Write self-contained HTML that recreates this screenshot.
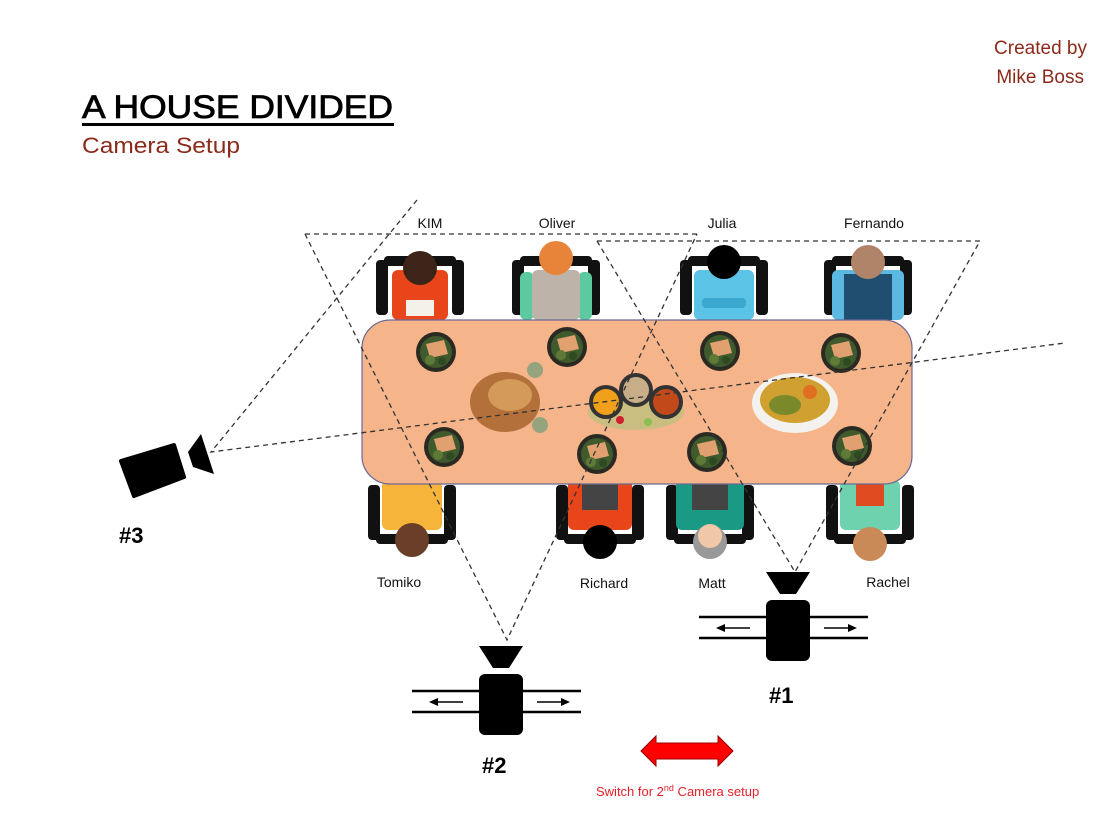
<!DOCTYPE html>
<html><head><meta charset="utf-8"><style>
html,body{margin:0;padding:0;background:#fff;}
svg{display:block;font-family:"Liberation Sans",sans-serif;}
</style></head><body>
<svg width="1120" height="826" viewBox="0 0 1120 826" xmlns="http://www.w3.org/2000/svg">
<defs>
<g id="plate">
<circle r="20" fill="#2b2a22"/>
<circle r="16" fill="#3f5a2c"/>
<path d="M-10,-8 L8,-12 L12,2 L-6,6 Z" fill="#e0a070"/>
<circle cx="-6" cy="8" r="5" fill="#5f7a36"/>
<circle cx="6" cy="9" r="4" fill="#2e4a20"/>
</g>
<g id="cam">
<polygon points="-22,0 22,0 8,22 -8,22" fill="#000"/>
<rect x="-22" y="28" width="44" height="61" rx="6" fill="#000"/>
<line x1="-89" y1="45" x2="-22" y2="45" stroke="#000" stroke-width="2.5"/>
<line x1="-89" y1="66" x2="-22" y2="66" stroke="#000" stroke-width="2.5"/>
<line x1="22" y1="45" x2="80" y2="45" stroke="#000" stroke-width="2.5"/>
<line x1="22" y1="66" x2="80" y2="66" stroke="#000" stroke-width="2.5"/>
<line x1="-66" y1="56" x2="-38" y2="56" stroke="#000" stroke-width="1.5"/>
<polygon points="-72,56 -63,52 -63,60" fill="#000"/>
<line x1="36" y1="56" x2="63" y2="56" stroke="#000" stroke-width="1.5"/>
<polygon points="69,56 60,52 60,60" fill="#000"/>
</g>
</defs>

<text x="1087" y="54" font-size="19" fill="#8b2a1a" text-anchor="end">Created by</text>
<text x="1084" y="83" font-size="19" fill="#8b2a1a" text-anchor="end">Mike Boss</text>
<text x="82" y="118" font-size="32" fill="#000" stroke="#000" stroke-width="0.8" textLength="311" lengthAdjust="spacingAndGlyphs">A HOUSE DIVIDED</text>
<rect x="82" y="123" width="312" height="3" fill="#000"/>
<text x="82" y="153" font-size="22" fill="#8b2a1a" textLength="158" lengthAdjust="spacingAndGlyphs">Camera Setup</text>

<!-- top people -->
<g transform="translate(420,270)">
<rect x="-44" y="-10" width="12" height="55" rx="4" fill="#111"/><rect x="32" y="-10" width="12" height="55" rx="4" fill="#111"/>
<rect x="-36" y="-14" width="72" height="10" rx="4" fill="#111"/>
<rect x="-28" y="0" width="56" height="50" rx="6" fill="#e8461a"/>
<rect x="-14" y="30" width="28" height="16" fill="#f4f0ea"/>
<circle cx="0" cy="-2" r="17" fill="#3d2418"/>
</g>
<g transform="translate(556,270)">
<rect x="-44" y="-10" width="12" height="55" rx="4" fill="#111"/><rect x="32" y="-10" width="12" height="55" rx="4" fill="#111"/>
<rect x="-36" y="-14" width="72" height="10" rx="4" fill="#111"/>
<rect x="-36" y="2" width="14" height="48" rx="6" fill="#5cc9a0"/><rect x="22" y="2" width="14" height="48" rx="6" fill="#5cc9a0"/>
<rect x="-24" y="0" width="48" height="50" rx="6" fill="#bdb3a8"/>
<circle cx="0" cy="-12" r="17" fill="#e8843a"/>
</g>
<g transform="translate(724,270)">
<rect x="-44" y="-10" width="12" height="55" rx="4" fill="#111"/><rect x="32" y="-10" width="12" height="55" rx="4" fill="#111"/>
<rect x="-36" y="-14" width="72" height="10" rx="4" fill="#111"/>
<rect x="-30" y="0" width="60" height="50" rx="6" fill="#5bc3e6"/>
<rect x="-22" y="28" width="44" height="10" rx="4" fill="#3aa8cf"/>
<circle cx="0" cy="-8" r="17" fill="#000"/>
</g>
<g transform="translate(868,270)">
<rect x="-44" y="-10" width="12" height="55" rx="4" fill="#111"/><rect x="32" y="-10" width="12" height="55" rx="4" fill="#111"/>
<rect x="-36" y="-14" width="72" height="10" rx="4" fill="#111"/>
<rect x="-36" y="0" width="72" height="50" rx="6" fill="#5bb8e0"/>
<rect x="-24" y="4" width="48" height="46" fill="#1f4e70"/>
<circle cx="0" cy="-8" r="17" fill="#b08468"/>
</g>

<!-- bottom people -->
<g transform="translate(412,530) rotate(180)">
<rect x="-44" y="-10" width="12" height="55" rx="4" fill="#111"/><rect x="32" y="-10" width="12" height="55" rx="4" fill="#111"/>
<rect x="-36" y="-14" width="72" height="10" rx="4" fill="#111"/>
<rect x="-30" y="0" width="60" height="50" rx="6" fill="#f7b43a"/>
<circle cx="0" cy="-10" r="17" fill="#6a3e28"/>
</g>
<g transform="translate(600,530) rotate(180)">
<rect x="-44" y="-10" width="12" height="55" rx="4" fill="#111"/><rect x="32" y="-10" width="12" height="55" rx="4" fill="#111"/>
<rect x="-36" y="-14" width="72" height="10" rx="4" fill="#111"/>
<rect x="-32" y="0" width="64" height="50" rx="6" fill="#e8461a"/>
<rect x="-18" y="20" width="36" height="30" fill="#444"/>
<circle cx="0" cy="-12" r="17" fill="#000"/>
</g>
<g transform="translate(710,530) rotate(180)">
<rect x="-44" y="-10" width="12" height="55" rx="4" fill="#111"/><rect x="32" y="-10" width="12" height="55" rx="4" fill="#111"/>
<rect x="-36" y="-14" width="72" height="10" rx="4" fill="#111"/>
<rect x="-34" y="0" width="68" height="50" rx="6" fill="#1a9a85"/>
<rect x="-18" y="20" width="36" height="30" fill="#444"/>
<circle cx="0" cy="-12" r="17" fill="#999"/>
<circle cx="0" cy="-6" r="12" fill="#f0c8a8"/>
</g>
<g transform="translate(870,530) rotate(180)">
<rect x="-44" y="-10" width="12" height="55" rx="4" fill="#111"/><rect x="32" y="-10" width="12" height="55" rx="4" fill="#111"/>
<rect x="-36" y="-14" width="72" height="10" rx="4" fill="#111"/>
<rect x="-30" y="0" width="60" height="50" rx="6" fill="#6ed2ae"/>
<rect x="-14" y="24" width="28" height="26" fill="#e04a20"/>
<circle cx="0" cy="-14" r="17" fill="#c98a58"/>
</g>

<!-- table -->
<rect x="362" y="320" width="550" height="164" rx="28" fill="#f5b48a" stroke="#6b6a95" stroke-width="1.2"/>

<use href="#plate" x="436" y="352"/><use href="#plate" x="567" y="347"/><use href="#plate" x="720" y="351"/><use href="#plate" x="841" y="353"/>
<use href="#plate" x="444" y="447"/><use href="#plate" x="597" y="454"/><use href="#plate" x="707" y="452"/><use href="#plate" x="852" y="446"/>

<!-- turkey -->
<circle cx="535" cy="370" r="8" fill="#7da07a" opacity="0.8"/>
<circle cx="540" cy="425" r="8" fill="#7da07a" opacity="0.8"/>
<ellipse cx="505" cy="402" rx="35" ry="30" fill="#b4703a"/>
<ellipse cx="510" cy="395" rx="22" ry="16" fill="#d49a5a"/>
<!-- bowls -->
<ellipse cx="636" cy="412" rx="48" ry="18" fill="#b7c07a" opacity="0.7"/>
<circle cx="606" cy="402" r="17" fill="#333"/><circle cx="606" cy="402" r="13" fill="#f0a01a"/>
<circle cx="636" cy="390" r="17" fill="#333"/><circle cx="636" cy="390" r="13" fill="#c8ae88"/>
<circle cx="666" cy="402" r="17" fill="#333"/><circle cx="666" cy="402" r="13" fill="#c24a1a"/>
<circle cx="620" cy="420" r="4" fill="#d02030"/><circle cx="648" cy="422" r="4" fill="#8bc050"/>
<!-- platter -->
<ellipse cx="795" cy="403" rx="43" ry="30" fill="#f4f2ee"/>
<ellipse cx="795" cy="400" rx="35" ry="23" fill="#d0a030"/>
<ellipse cx="785" cy="405" rx="16" ry="10" fill="#7a8a2a"/>
<circle cx="810" cy="392" r="7" fill="#e07020"/>

<!-- dashed lines -->
<g stroke="#333" stroke-width="1.3" stroke-dasharray="5,4" fill="none">
<path d="M305,234 L697,234"/>
<path d="M305,234 L507,640 L697,234"/>
<path d="M597,241 L980,241"/>
<path d="M597,241 L795,572 L980,241"/>
<path d="M417,200 L211,452 L1065,343"/>
</g>

<!-- cameras -->
<use href="#cam" x="501" y="646"/>
<use href="#cam" x="788" y="572"/>
<polygon points="121,461 174,445 184,477 134,496" fill="#000" stroke="#000" stroke-width="4" stroke-linejoin="round"/>
<polygon points="188,452 201,434 214,474 193,467" fill="#000"/>

<g font-size="22" font-weight="bold" fill="#000">
<text x="769" y="703">#1</text>
<text x="482" y="773">#2</text>
<text x="119" y="543">#3</text>
</g>

<g font-size="14" fill="#111" text-anchor="middle">
<text x="430" y="228">KIM</text><text x="557" y="228">Oliver</text><text x="722" y="228">Julia</text><text x="874" y="228">Fernando</text>
<text x="399" y="587">Tomiko</text><text x="604" y="588">Richard</text><text x="712" y="588">Matt</text><text x="888" y="587">Rachel</text>
</g>

<polygon points="641,751 656,736 656,743 718,743 718,736 733,751 718,766 718,759 656,759 656,766" fill="#f00" stroke="#900" stroke-width="1"/>
<text x="596" y="796" font-size="13" fill="#e8202a">Switch for 2<tspan font-size="9" dy="-5">nd</tspan><tspan dy="5"> Camera setup</tspan></text>
</svg>
</body></html>
